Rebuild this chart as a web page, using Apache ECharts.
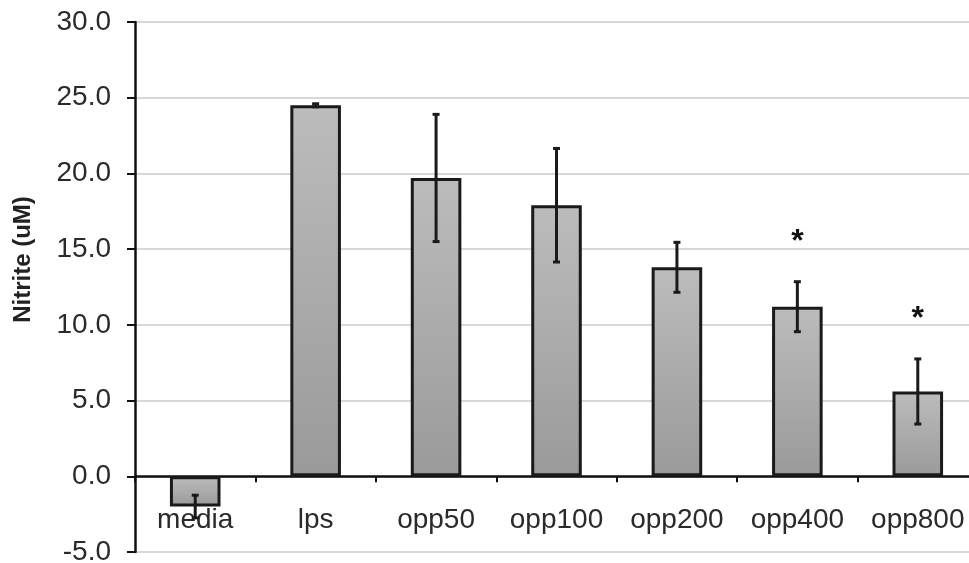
<!DOCTYPE html>
<html>
<head>
<meta charset="utf-8">
<style>
  html, body { margin: 0; padding: 0; background: #fff; }
  #chart { width: 969px; height: 563px; }
</style>
<script src="https://cdn.jsdelivr.net/npm/echarts@6/dist/echarts.min.js"></script>
</head>
<body>
<div id="chart"></div>
<script>
// Nitrite production per treatment group (mean ± SD)
const categories = ['media', 'lps', 'opp50', 'opp100', 'opp200', 'opp400', 'opp800'];
const means = [-2.0, 24.5, 19.7, 17.9, 13.8, 11.2, 5.6];
const errors = [0.75, 0.1, 4.2, 3.75, 1.65, 1.65, 2.15];
const significant = [false, false, false, false, false, true, true];
const yTicks = [-5, 0, 5, 10, 15, 20, 25, 30];

const chart = echarts.init(document.getElementById('chart'));
const font = '"Liberation Sans", Arial, sans-serif';

const errData = categories.map((c, i) => [i, means[i] - errors[i], means[i] + errors[i], significant[i] ? 1 : 0]);

chart.setOption({
  animation: false,
  grid: { left: 135, right: -9, top: 22, bottom: 11, containLabel: false, outerBoundsMode: 'none' },
  xAxis: {
    type: 'category',
    data: categories,
    axisLine: { onZero: true, lineStyle: { color: '#111', width: 2.5 } },
    axisTick: { show: true, length: 6, inside: false, lineStyle: { color: '#111', width: 2 } },
    // labels sit between the zero line and the bottom gridline
    axisLabel: { color: '#2a2a2a', fontFamily: font, fontSize: 28, margin: -46, interval: 0 },
    splitLine: { show: false }
  },
  yAxis: {
    type: 'value',
    min: yTicks[0],
    max: yTicks[yTicks.length - 1],
    interval: 5,
    name: 'Nitrite (uM)',
    nameLocation: 'middle',
    nameGap: 100,
    nameRotate: 90,
    nameTextStyle: {
      color: '#222', fontFamily: font, fontSize: 24, fontWeight: 'bold',
      padding: [0, 0, 0, 55]
    },
    axisLine: { show: true, lineStyle: { color: '#111', width: 2.5 } },
    axisTick: { show: true, length: 8, lineStyle: { color: '#111', width: 2 } },
    axisLabel: {
      color: '#2a2a2a', fontFamily: font, fontSize: 28, margin: 24,
      formatter: v => v.toFixed(1)
    },
    splitLine: { show: true, lineStyle: { color: '#cbcbcb', width: 1.5 } }
  },
  series: [
    {
      type: 'bar',
      data: means,
      barWidth: '42%',
      itemStyle: {
        color: new echarts.graphic.LinearGradient(0, 0, 0, 1, [
          { offset: 0, color: '#bcbcbc' },
          { offset: 1, color: '#9a9a9a' }
        ]),
        borderColor: '#1a1a1a',
        borderWidth: 3
      },
      z: 2
    },
    {
      type: 'custom',
      data: errData,
      z: 5,
      renderItem: (params, api) => {
        const x = api.coord([api.value(0), 0])[0];
        const lo = api.coord([api.value(0), api.value(1)])[1];
        const hi = api.coord([api.value(0), api.value(2)])[1];
        const cap = 3.5;
        const style = { stroke: '#1a1a1a', lineWidth: 3 };
        const children = [
          { type: 'line', shape: { x1: x, y1: lo, x2: x, y2: hi }, style },
          { type: 'line', shape: { x1: x - cap, y1: lo, x2: x + cap, y2: lo }, style },
          { type: 'line', shape: { x1: x - cap, y1: hi, x2: x + cap, y2: hi }, style }
        ];
        if (api.value(3) === 1) {
          children.push({
            type: 'text',
            style: {
              text: '*', x: x, y: hi - 40,
              fill: '#111', font: 'bold 32px ' + font,
              textAlign: 'center', textVerticalAlign: 'middle'
            }
          });
        }
        return { type: 'group', children };
      }
    }
  ]
});
</script>
</body>
</html>
